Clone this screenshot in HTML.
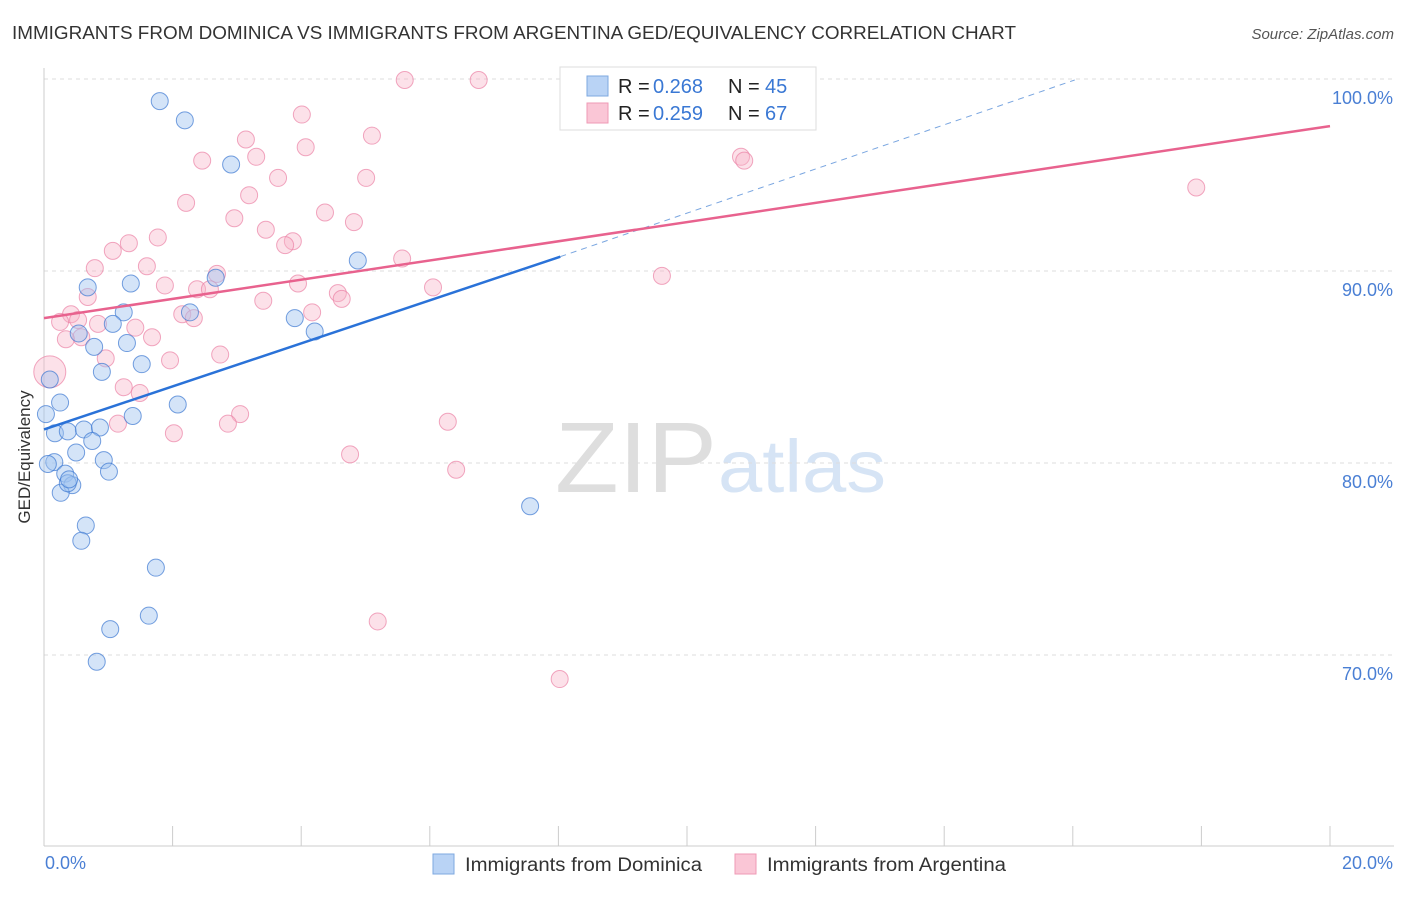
<!DOCTYPE html>
<html><head><meta charset="utf-8"><style>
body{margin:0;background:#fff;font-family:"Liberation Sans",sans-serif;}
svg text{font-family:"Liberation Sans",sans-serif;}
</style></head><body>
<svg width="1406" height="892">
<text x="12" y="39" font-size="18" fill="#333" textLength="1004" lengthAdjust="spacingAndGlyphs">IMMIGRANTS FROM DOMINICA VS IMMIGRANTS FROM ARGENTINA GED/EQUIVALENCY CORRELATION CHART</text>
<text x="1394" y="39" font-size="15" fill="#555" font-style="italic" text-anchor="end">Source: ZipAtlas.com</text>
<text x="555" y="492" font-size="100" fill="#dedede" textLength="162" lengthAdjust="spacingAndGlyphs" font-family="Liberation Serif">ZIP</text>
<text x="718" y="492" font-size="74" fill="#d6e4f5" textLength="168" lengthAdjust="spacingAndGlyphs">atlas</text>
<g id="grid"></g>
<line x1="44" y1="68" x2="44" y2="846" stroke="#ccc"/>
<line x1="44" y1="846" x2="1394" y2="846" stroke="#ccc"/>
<g id="xticks"></g>
<text x="30" y="457" font-size="17" fill="#333" text-anchor="middle" transform="rotate(-90 30 457)">GED/Equivalency</text>
<text x="45" y="869" font-size="18" fill="#4a7fd4">0.0%</text>
<text x="1393" y="869" font-size="18" fill="#4a7fd4" text-anchor="end">20.0%</text>
<g id="pts"></g>
<g id="lines"></g>
<g>
<rect x="560" y="67" width="256" height="63" fill="#fff" stroke="#ddd"/>
<rect x="587" y="76" width="21" height="20" fill="#b9d3f5" stroke="#7ea8e0"/>
<rect x="587" y="103" width="21" height="20" fill="#fac6d6" stroke="#ef9ab5"/>
<text x="618" y="93" font-size="20" fill="#222">R =</text>
<text x="653" y="93" font-size="20" fill="#3a78d4">0.268</text>
<text x="728" y="93" font-size="20" fill="#222">N =</text>
<text x="765" y="93" font-size="20" fill="#3a78d4">45</text>
<text x="618" y="120" font-size="20" fill="#222">R =</text>
<text x="653" y="120" font-size="20" fill="#3a78d4">0.259</text>
<text x="728" y="120" font-size="20" fill="#222">N =</text>
<text x="765" y="120" font-size="20" fill="#3a78d4">67</text>
</g>
<g>
<rect x="433" y="854" width="21" height="20" fill="#b9d3f5" stroke="#7ea8e0"/>
<text x="465" y="871" font-size="19" fill="#333" textLength="237" lengthAdjust="spacingAndGlyphs">Immigrants from Dominica</text>
<rect x="735" y="854" width="21" height="20" fill="#fac6d6" stroke="#ef9ab5"/>
<text x="767" y="871" font-size="19" fill="#333" textLength="239" lengthAdjust="spacingAndGlyphs">Immigrants from Argentina</text>
</g>
</svg>
<script>
const yTicks=[100,90,80,70];
const xTickVals=[0,2,4,6,8,10,12,14,16,18,20];
const blueX=[1.80,2.19,2.91,4.88,1.35,0.68,2.67,1.24,2.27,1.07,3.90,4.21,0.78,1.29,0.54,1.52,0.90,0.09,0.25,2.08,1.38,0.03,0.17,0.37,0.62,0.87,0.75,0.50,0.16,0.93,1.01,0.33,0.44,0.26,0.37,0.65,0.58,1.74,1.63,1.03,0.82,7.56,0.06,0.39];
const blueY=[98.9,97.9,95.6,90.6,89.4,89.2,89.7,87.9,87.9,87.3,87.6,86.9,86.1,86.3,86.8,85.2,84.8,84.4,83.2,83.1,82.5,82.6,81.6,81.7,81.8,81.9,81.2,80.6,80.1,80.2,79.6,79.5,78.9,78.5,79.0,76.8,76.0,74.6,72.1,71.4,69.7,77.8,80.0,79.2];
const pinkX=[5.61,6.76,8.20,4.01,5.10,3.14,4.07,3.30,2.46,10.84,10.89,5.01,3.64,3.19,17.92,2.21,4.37,2.96,4.82,3.45,1.77,1.32,3.87,3.75,1.07,1.60,0.79,2.69,5.57,9.61,1.88,3.95,2.38,2.58,0.68,6.05,4.57,4.63,3.41,4.17,2.15,2.33,0.42,0.25,0.53,0.84,1.42,0.58,0.34,1.68,2.74,0.96,1.96,0.09,1.24,1.49,3.05,2.86,1.15,2.02,6.28,4.76,6.41,5.19,8.02];
const pinkY=[100,100,100,98.2,97.1,96.9,96.5,96.0,95.8,96.0,95.8,94.9,94.9,94.0,94.4,93.6,93.1,92.8,92.6,92.2,91.8,91.5,91.6,91.4,91.1,90.3,90.2,89.9,90.7,89.8,89.3,89.4,89.1,89.1,88.7,89.2,88.9,88.6,88.5,87.9,87.8,87.6,87.8,87.4,87.5,87.3,87.1,86.6,86.5,86.6,85.7,85.5,85.4,84.8,84.0,83.7,82.6,82.1,82.1,81.6,82.2,80.5,79.7,71.8,68.8];
const blueLine=[[0,81.8],[8.03,90.8]];
const blueDash=[[8.03,90.8],[16.03,100]];
const pinkLine=[[0,87.6],[20,97.6]];
const NS='http://www.w3.org/2000/svg';
const sx=v=>44+v*64.3, sy=v=>272-(v-90)*19.2;
function mk(t,a,p){const e=document.createElementNS(NS,t);for(const k in a)e.setAttribute(k,a[k]);p.appendChild(e);return e;}
const grid=document.getElementById('grid');
yTicks.forEach(t=>{
 const l=mk('line',{x1:44,x2:1394,y1:sy(t)-1,y2:sy(t)-1,stroke:'#ddd','stroke-dasharray':'4,4'},grid);
 
 
 const tx=mk('text',{x:1393,y:sy(t)+24,'font-size':18,fill:'#4a7fd4','text-anchor':'end'},grid);
 tx.textContent=t.toFixed(1)+'%';
 
 
});
const xt=document.getElementById('xticks');
xTickVals.forEach(v=>{
 const l=mk('line',{x1:sx(v),x2:sx(v),y1:826,y2:846,stroke:'#ccc'},xt);
 
 
});
const pts=document.getElementById('pts');
pinkX.forEach((x,i)=>{
 const c=mk('circle',{cx:sx(x),cy:sy(pinkY[i]),r:i==53?16:8.5,fill:'rgba(248,180,200,0.4)',stroke:'rgba(235,130,165,0.7)','stroke-width':1},pts);
 
 
});
blueX.forEach((x,i)=>{
 const c=mk('circle',{cx:sx(x),cy:sy(blueY[i]),r:8.5,fill:'rgba(160,195,240,0.45)',stroke:'rgba(60,120,210,0.7)','stroke-width':1},pts);
 
 
});
const ln=document.getElementById('lines');
function seg(a,col,dash,name){const l=mk('line',{x1:sx(a[0][0]),y1:sy(a[0][1]),x2:sx(a[1][0]),y2:sy(a[1][1]),stroke:col,'stroke-width':dash?1:2.5},ln);if(dash)l.setAttribute('stroke-dasharray','6,5');
 
 }
seg(blueLine,'#2a72d8',false,'dominica-trend-line');
seg(blueDash,'#7aa6e0',true,'dominica-trend-extension');
seg(pinkLine,'#e8628e',false,'argentina-trend-line');
</script>
</body></html>
